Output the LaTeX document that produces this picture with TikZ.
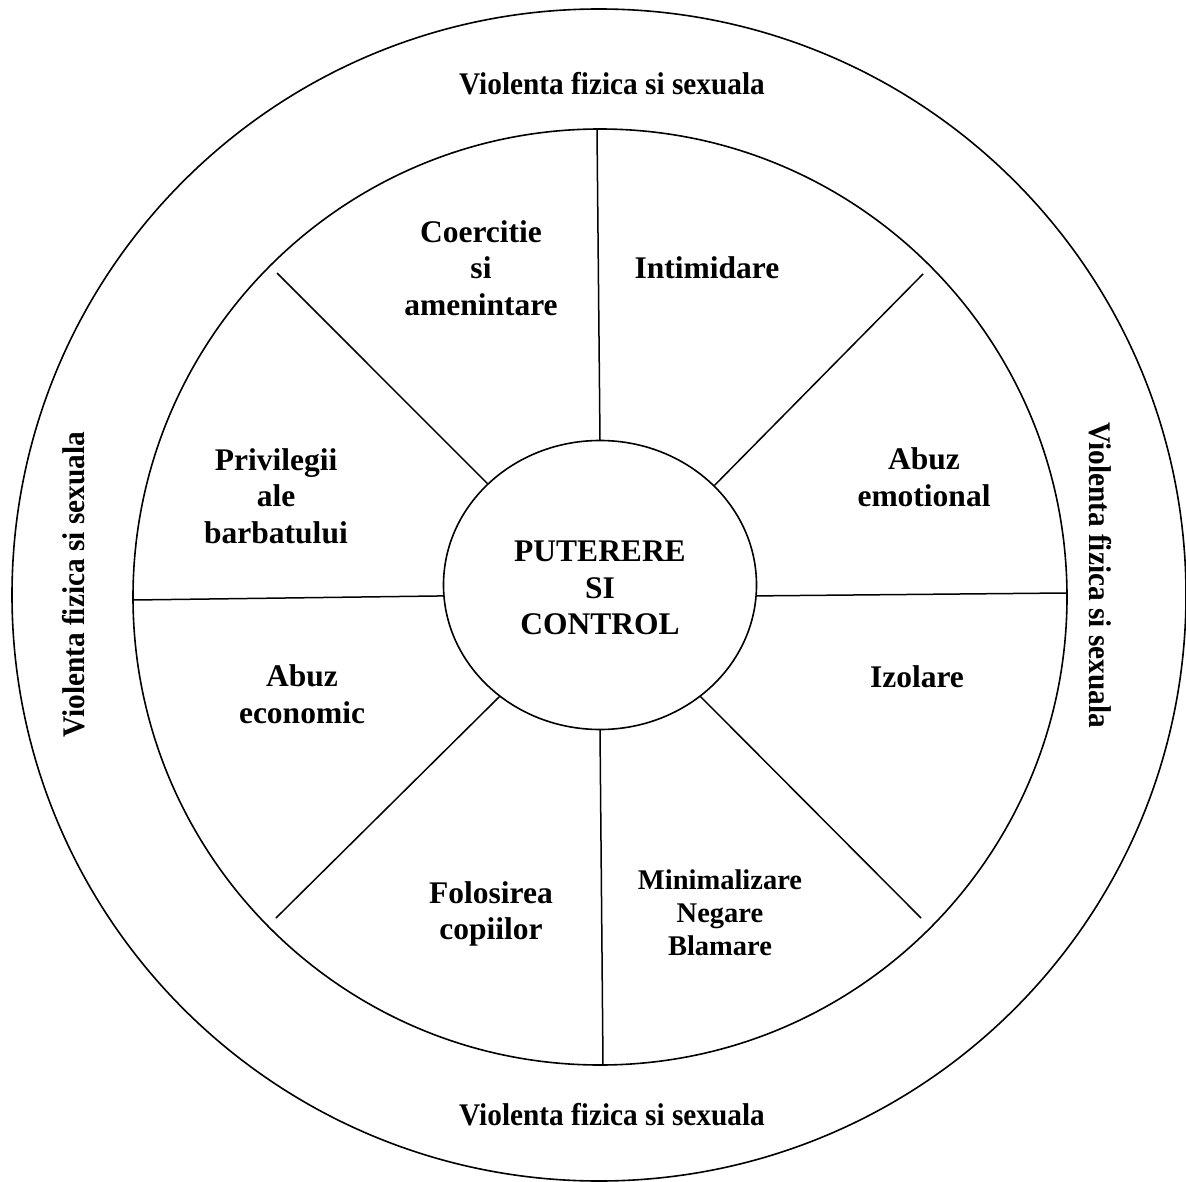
\documentclass[tikz,border=0pt]{standalone}
\usepackage{fontspec}
\setmainfont{Liberation Serif}
\newfontfamily\ringfont[FakeStretch=0.93]{Liberation Serif}
\usetikzlibrary{shapes.geometric}

\begin{document}
\begin{tikzpicture}[x=1pt,y=-1pt,
  ring/.style={draw, ellipse, line width=1.6pt, inner sep=0pt, outer sep=0pt},
  spoke/.style={line width=1.5pt},
  sector/.style={align=center, inner sep=0pt,
    font=\fontsize{31.5}{36.5}\selectfont\bfseries},
  sectorsmall/.style={align=center, inner sep=0pt,
    font=\fontsize{28.5}{33}\selectfont\bfseries},
  band/.style={inner sep=0pt,
    font=\ringfont\fontsize{31.5}{36.5}\selectfont\bfseries}]

\useasboundingbox (0,0) rectangle (1186,1182);

% three rings of the wheel
\node[ring, minimum width=1174pt, minimum height=1172pt] (outer) at (599,595) {};
\node[ring, minimum width=934pt, minimum height=936pt] (rim) at (600,597) {};
\node[ring, minimum width=313pt, minimum height=289pt] (hub) at (600,585) {};

% outer ends of the spokes, on the rim
\coordinate (r1) at (597,130);
\coordinate (r2) at (923,274);
\coordinate (r3) at (1066,593);
\coordinate (r4) at (921,918);
\coordinate (r5) at (603,1065);
\coordinate (r6) at (276,918);
\coordinate (r7) at (133,600);
\coordinate (r8) at (277,273);

% spokes from the hub to the rim
\draw[spoke] (hub.90)    -- (r1);
\draw[spoke] (hub.41.8)  -- (r2);
\draw[spoke] (hub.-4)    -- (r3);
\draw[spoke] (hub.-48.2) -- (r4);
\draw[spoke] (hub.-90)   -- (r5);
\draw[spoke] (hub.228.2) -- (r6);
\draw[spoke] (hub.184.7) -- (r7);
\draw[spoke] (hub.138.2) -- (r8);

% centre
\node[sector] (core) at (600,588) {PUTERERE\\SI\\CONTROL};

% sectors
\node[sector] (coerc) at (481,268) {Coercitie\\si\\amenintare};
\node[sector] (intim) at (707,268) {Intimidare};
\node[sector] (emot)  at (924,477) {Abuz\\emotional};
\node[sector] (izol)  at (917,677) {Izolare};
\node[sectorsmall] (minim) at (720,913) {Minimalizare\\Negare\\Blamare};
\node[sector] (copii) at (491,914) {Folosirea\\copiilor};
\node[sector] (econ)  at (302,694) {Abuz\\economic};
\node[sector] (priv)  at (276,496) {Privilegii\\ale\\barbatului};

% outer band
\node[band] (vtop) at (612,84) {Violenta fizica si sexuala};
\node[band] (vbot) at (612,1115) {Violenta fizica si sexuala};
\node[band, rotate=90]  (vleft)  at (74,585) {Violenta fizica si sexuala};
\node[band, rotate=-90] (vright) at (1100,575) {Violenta fizica si sexuala};
\end{tikzpicture}
\end{document}
